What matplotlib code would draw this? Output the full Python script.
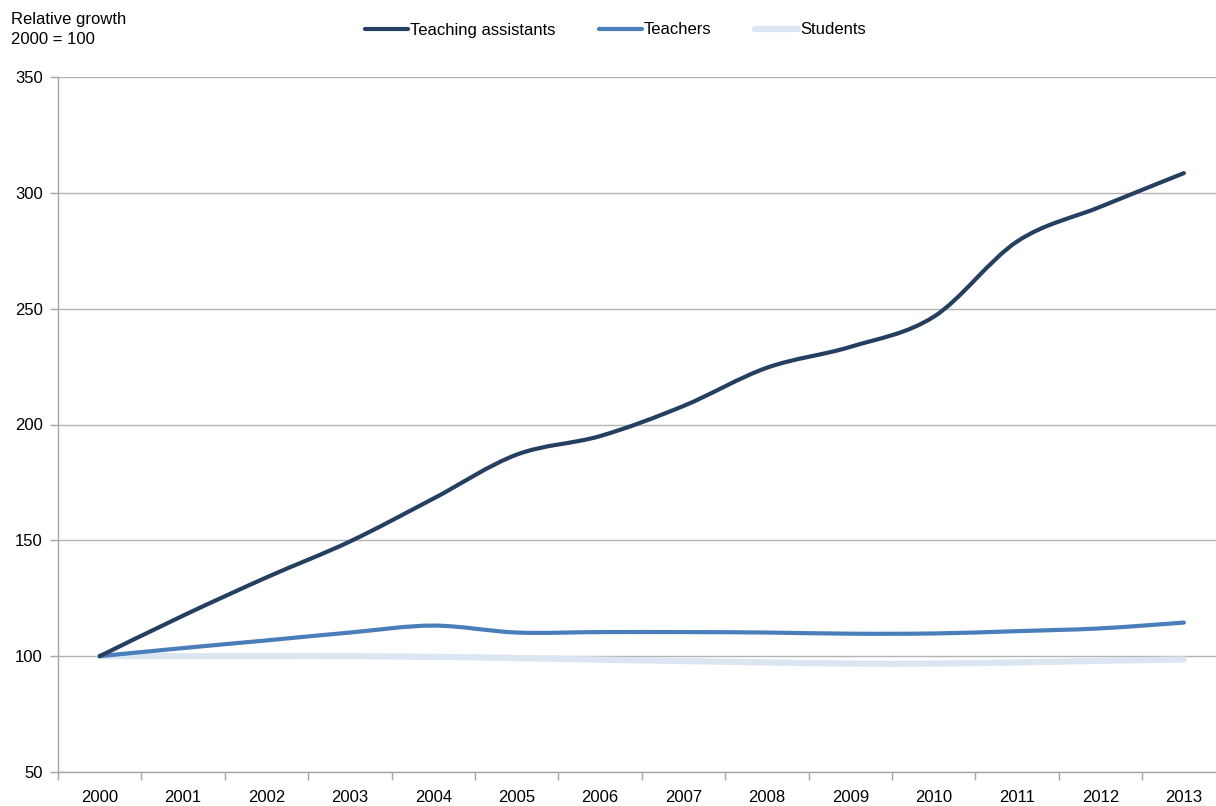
import matplotlib
matplotlib.use("Agg")
from matplotlib import pyplot as plt
from matplotlib.path import Path
from matplotlib.patches import PathPatch
from matplotlib.lines import Line2D
import numpy as np

years = [str(y) for y in range(2000, 2014)]
assistants = [100, 117.5, 134, 149.5, 168, 187, 195, 208, 224.5, 233.5, 246.5, 279, 294, 308.5]
teachers = [100, 103.5, 106.8, 110.2, 113.2, 110.2, 110.4, 110.4, 110.2, 109.7, 109.8, 110.8, 112, 114.5]
students = [100, 100, 100, 100, 99.7, 99.2, 98.5, 97.9, 97.3, 96.8, 96.8, 97.3, 98, 98.6]

series_names = ["Teaching assistants", "Teachers", "Students"]
series_colors = ["#253f60", "#4a7ebb", "#dce6f2"]
series_widths = [3.0, 3.0, 4.5]

plt.rcParams['font.family'] = ['Liberation Sans', 'DejaVu Sans']
plt.rcParams['font.size'] = 12


def smooth_path(xs, ys):
    # excel-like smoothed line: cubic bezier through each point
    pts = np.column_stack([xs, ys]).astype(float)
    n = len(pts)
    verts = [pts[0]]
    codes = [Path.MOVETO]
    for i in range(n - 1):
        p0 = pts[max(i - 1, 0)]
        p1 = pts[i]
        p2 = pts[i + 1]
        p3 = pts[min(i + 2, n - 1)]
        c1 = p1 + (p2 - p0) / 6.0
        c2 = p2 - (p3 - p1) / 6.0
        verts += [c1, c2, p2]
        codes += [Path.CURVE4] * 3
    return Path(verts, codes)


fig = plt.figure(figsize=(12.16, 8.06), dpi=100)
ax = fig.add_axes([58 / 1216, 1 - 772 / 806, 1 - 58 / 1216, (772 - 77) / 806])

x = np.arange(len(years))
data = [assistants, teachers, students]
# draw light series first so darker ones sit on top
for vals, col, lw in reversed(list(zip(data, series_colors, series_widths))):
    patch = PathPatch(smooth_path(x, vals), facecolor='none', edgecolor=col,
                      linewidth=lw, capstyle='round', joinstyle='round', zorder=3)
    ax.add_patch(patch)

ax.set_xlim(-0.5, 13.385)
ax.set_ylim(50, 350)
ax.set_yticks(range(50, 351, 50))
ax.yaxis.grid(True, color='#b3b3b3', linewidth=1.0)
ax.set_axisbelow(True)

ax.set_xticks(x)
ax.set_xticklabels(years)
ax.set_xticks(np.arange(-0.5, 13.5, 1), minor=True)
ax.tick_params(axis='x', which='major', length=0, pad=13)
ax.tick_params(axis='x', which='minor', length=6, color='#a6a6a6', width=1)
ax.tick_params(axis='y', length=6, color='#a6a6a6', width=1, pad=5)

for side in ['top', 'right']:
    ax.spines[side].set_visible(False)
for side in ['left', 'bottom']:
    ax.spines[side].set_color('#a6a6a6')
    ax.spines[side].set_linewidth(1.0)

fig.text(11 / 1216, 1 - 12 / 806, "Relative growth\n2000 = 100", ha='left', va='top',
         linespacing=1.45)

handles = [Line2D([0], [0], color=c, linewidth=w, solid_capstyle='round')
           for c, w in zip(series_colors, series_widths)]
fig.legend(handles, series_names, loc='center', bbox_to_anchor=(0.506, 1 - 30 / 806),
           ncol=3, frameon=False, handlelength=2.6, handletextpad=0.1,
           columnspacing=2.6)

fig.savefig("out.png", dpi=100)
